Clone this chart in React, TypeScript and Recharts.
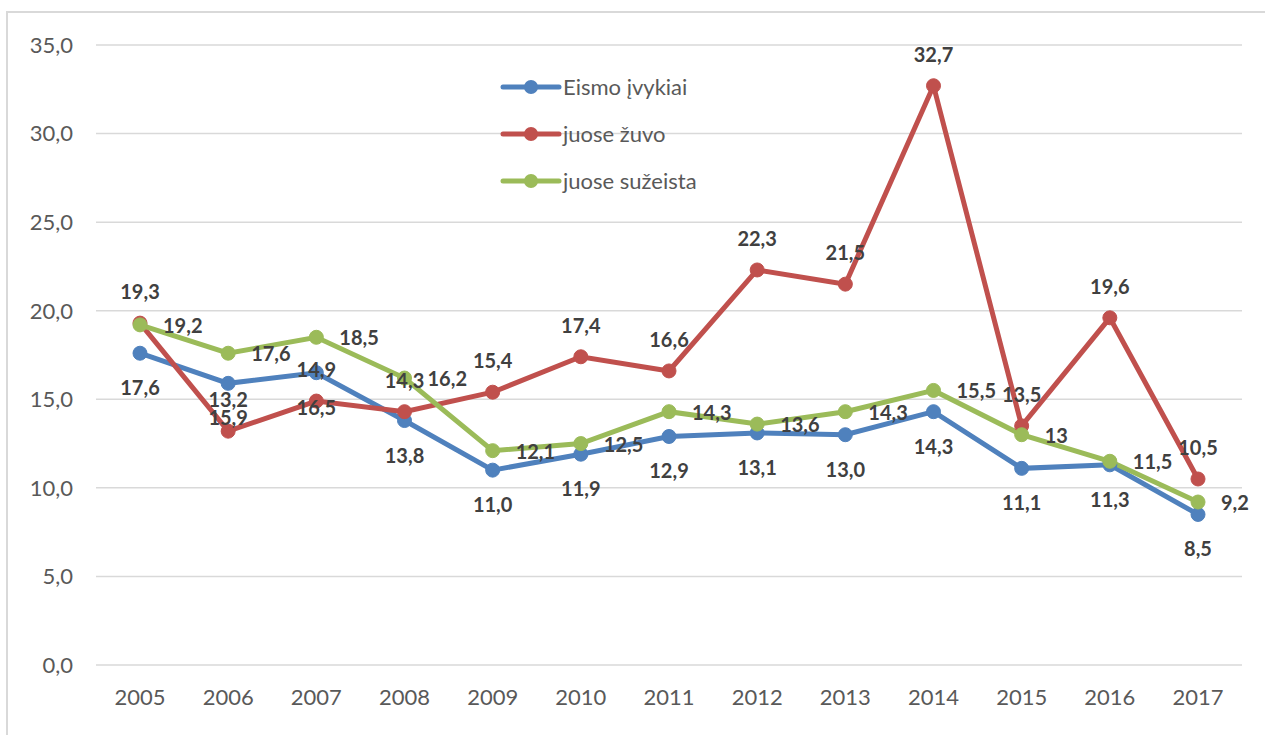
import React from "react"
import { CartesianGrid, LabelList, Line, LineChart, XAxis, YAxis } from "recharts"

const years = ["2005", "2006", "2007", "2008", "2009", "2010", "2011", "2012", "2013", "2014", "2015", "2016", "2017"]
const eismoIvykiai = [17.6, 15.9, 16.5, 13.8, 11.0, 11.9, 12.9, 13.1, 13.0, 14.3, 11.1, 11.3, 8.5]
const juoseZuvo = [19.3, 13.2, 14.9, 14.3, 15.4, 17.4, 16.6, 22.3, 21.5, 32.7, 13.5, 19.6, 10.5]
const juoseSuzeista = [19.2, 17.6, 18.5, 16.2, 12.1, 12.5, 14.3, 13.6, 14.3, 15.5, 13, 11.5, 9.2]
const yTicks = [0, 5, 10, 15, 20, 25, 30, 35]

const data = years.map((year, i) => ({
  year,
  eismo: eismoIvykiai[i],
  zuvo: juoseZuvo[i],
  suzeista: juoseSuzeista[i],
}))

const BLUE = "#4f81bd"
const RED = "#c0504d"
const GREEN = "#9bbb59"
const FONT = "Lato, 'Open Sans', sans-serif"

const fixed1 = (v: number) => v.toFixed(1).replace(".", ",")
const general = (v: number) => String(v).replace(".", ",")

const makeLabel = (fmt: (v: number) => string, dx: number, dy: number, anchor: "middle" | "start") =>
  (props: any) => {
    const { x, y, value } = props
    return (
      <text
        x={x + dx}
        y={y + dy}
        textAnchor={anchor}
        dominantBaseline="central"
        fontFamily={FONT}
        fontSize={20}
        fontWeight={700}
        fill="#404040"
      >
        {fmt(Number(value))}
      </text>
    )
  }

const legendItems = [
  { name: "Eismo įvykiai", color: BLUE },
  { name: "juose žuvo", color: RED },
  { name: "juose sužeista", color: GREEN },
]

function ChartLegend() {
  return (
    <div style={{ position: "absolute", left: 500, top: 63, fontFamily: FONT }}>
      {legendItems.map((it) => (
        <div key={it.name} style={{ display: "flex", alignItems: "center", height: 47 }}>
          <svg width={62} height={20}>
            <line x1={3} y1={10} x2={59} y2={10} stroke={it.color} strokeWidth={5} strokeLinecap="round" />
            <circle cx={31} cy={10} r={7} fill={it.color} />
          </svg>
          <span style={{ fontSize: 22, color: "#595959", marginLeft: 1 }}>{it.name}</span>
        </div>
      ))}
    </div>
  )
}

export default function App() {
  return (
    <div style={{ position: "absolute", left: 0, top: 0, width: 1265, height: 735, overflow: "hidden", background: "#fff" }}>
      <div
        style={{
          position: "absolute",
          left: 6,
          top: 11,
          width: 1400,
          height: 900,
          border: "2px solid #d9d9d9",
        }}
      />
      <LineChart
        width={1265}
        height={735}
        data={data}
        margin={{ top: 45, right: 23, bottom: 0, left: 0 }}
        style={{ position: "absolute", left: 0, top: 0 }}
      >
        <CartesianGrid horizontal vertical={false} stroke="#d9d9d9" strokeWidth={1.5} />
        <XAxis
          dataKey="year"
          axisLine={false}
          tickLine={false}
          tickSize={0}
          tickMargin={24}
          height={70}
          padding={{ left: 44, right: 44 }}
          interval={0}
          tick={{ fill: "#595959", fontSize: 22, fontFamily: FONT }}
        />
        <YAxis
          domain={[0, 35]}
          ticks={yTicks}
          width={96}
          axisLine={false}
          tickLine={false}
          tickSize={0}
          tickMargin={23}
          tickFormatter={(v: number) => fixed1(v)}
          tick={{ fill: "#595959", fontSize: 22, fontFamily: FONT }}
        />
        <Line
          type="linear"
          dataKey="eismo"
          name="Eismo įvykiai"
          stroke={BLUE}
          strokeWidth={5}
          dot={{ r: 7, fill: BLUE, stroke: BLUE, strokeWidth: 1 }}
          isAnimationActive={false}
        >
          <LabelList dataKey="eismo" content={makeLabel(fixed1, 0, 34, "middle")} />
        </Line>
        <Line
          type="linear"
          dataKey="zuvo"
          name="juose žuvo"
          stroke={RED}
          strokeWidth={5}
          dot={{ r: 7, fill: RED, stroke: RED, strokeWidth: 1 }}
          isAnimationActive={false}
        >
          <LabelList dataKey="zuvo" content={makeLabel(general, 0, -32, "middle")} />
        </Line>
        <Line
          type="linear"
          dataKey="suzeista"
          name="juose sužeista"
          stroke={GREEN}
          strokeWidth={5}
          dot={{ r: 7, fill: GREEN, stroke: GREEN, strokeWidth: 1 }}
          isAnimationActive={false}
        >
          <LabelList dataKey="suzeista" content={makeLabel(general, 23, 0, "start")} />
        </Line>
      </LineChart>
      <ChartLegend />
    </div>
  )
}
